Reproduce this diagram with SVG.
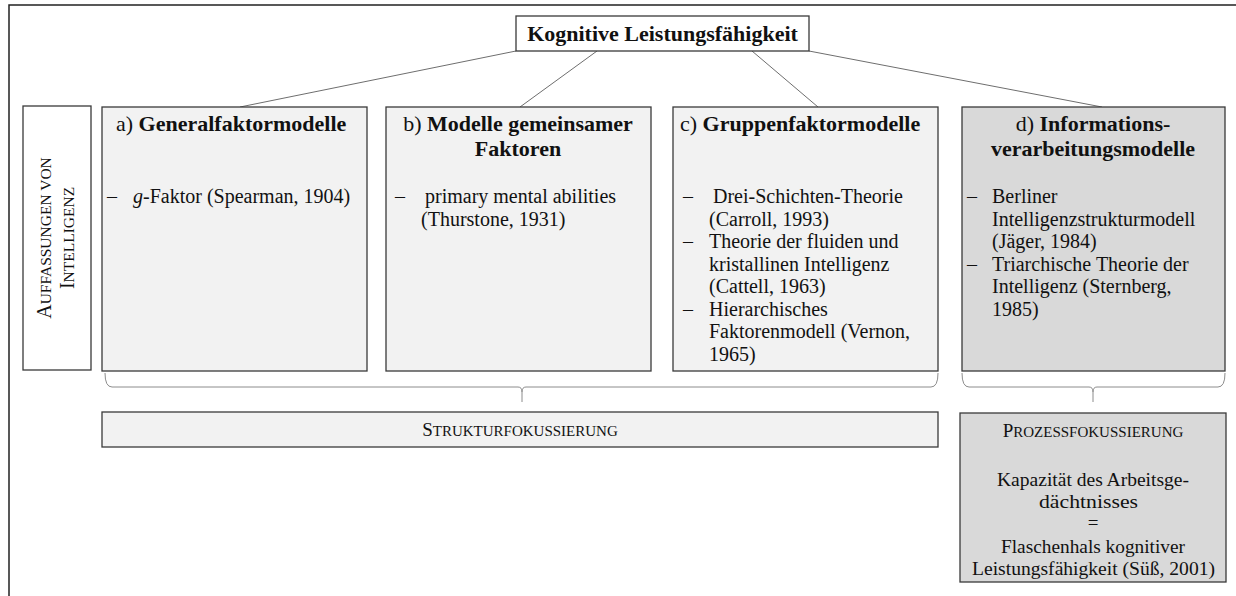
<svg xmlns="http://www.w3.org/2000/svg" width="1236" height="596" viewBox="0 0 1236 596">
  <style>
    text { font-family: "Liberation Serif", "DejaVu Serif", serif; fill: #111; }
    .box { stroke: #3a3a3a; stroke-width: 1.3; }
    .light { fill: #f2f2f2; }
    .dark { fill: #d9d9d9; }
    .white { fill: #ffffff; }
    .title { font-size: 22px; }
    .item { font-size: 20px; }
    .sc { font-size: 20px; }
    .scs { font-size: 15.5px; }
    .sc2 { font-size: 19px; }
    .scs2 { font-size: 15px; }
    .proc { font-size: 19px; }
    .link { stroke: #6e6e6e; stroke-width: 1; fill: none; }
    .brace { stroke: #8c8c8c; stroke-width: 1; fill: none; }
  </style>

  <!-- outer frame -->
  <rect x="9" y="5" width="1240" height="600" fill="#fff" stroke="#222" stroke-width="1.5"/>

  <!-- connectors from the root to the four model families -->
  <g id="connectors">
    <line class="link" x1="516" y1="51" x2="240" y2="107"/>
    <line class="link" x1="597" y1="51" x2="520" y2="107"/>
    <line class="link" x1="752" y1="51" x2="818" y2="107"/>
    <line class="link" x1="809" y1="51" x2="1102" y2="107"/>
    <!-- braces grouping the families -->
    <path class="brace" d="M105,373 Q105,387 112,387 L518,387 Q522,387 522,392 L522,402 M522,392 Q522,387 526,387 L931,387 Q938,387 938,373"/>
    <path class="brace" d="M962,373 Q962,387 969,387 L1089,387 Q1093,387 1093,392 L1093,402 M1093,392 Q1093,387 1097,387 L1218,387 Q1225,387 1225,373"/>
  </g>

  <g id="root">
    <rect class="box white" x="516" y="16" width="293" height="35"/>
    <text x="662.5" y="41" text-anchor="middle" font-size="22" font-weight="bold">Kognitive Leistungsfähigkeit</text>
  </g>

  <g id="side-label">
    <rect class="box white" x="23" y="106" width="68" height="264"/>
    <text transform="translate(51,238) rotate(-90)" text-anchor="middle"><tspan class="sc">A</tspan><tspan class="scs">UFFASSUNGEN VON</tspan></text>
    <text transform="translate(74,238) rotate(-90)" text-anchor="middle"><tspan class="sc">I</tspan><tspan class="scs">NTELLIGENZ</tspan></text>
  </g>

  <g id="node-a">
    <rect class="box light" x="102" y="107" width="265" height="264"/>
    <text class="title" x="116" y="131">a) <tspan font-weight="bold">Generalfaktormodelle</tspan></text>
    <text class="item" x="107" y="203">–</text>
    <text class="item" x="133" y="203"><tspan font-style="italic">g</tspan>-Faktor (Spearman, 1904)</text>
  </g>

  <g id="node-b">
    <rect class="box light" x="386" y="107" width="265" height="264"/>
    <text class="title" x="518" y="131" text-anchor="middle">b) <tspan font-weight="bold">Modelle gemeinsamer</tspan></text>
    <text class="title" x="518" y="156" text-anchor="middle" font-weight="bold">Faktoren</text>
    <text class="item" x="395" y="203">–</text>
    <text class="item" x="425" y="203">primary mental abilities</text>
    <text class="item" x="421" y="226">(Thurstone, 1931)</text>
  </g>

  <g id="node-c">
    <rect class="box light" x="673" y="107" width="265" height="264"/>
    <text class="title" x="680" y="131">c) <tspan font-weight="bold">Gruppenfaktormodelle</tspan></text>
    <text class="item" x="683" y="203">–</text>
    <text class="item" x="713" y="203">Drei-Schichten-Theorie</text>
    <text class="item" x="709" y="226">(Carroll, 1993)</text>
    <text class="item" x="683" y="248">–</text>
    <text class="item" x="709" y="248">Theorie der fluiden und</text>
    <text class="item" x="709" y="271">kristallinen Intelligenz</text>
    <text class="item" x="709" y="293">(Cattell, 1963)</text>
    <text class="item" x="683" y="316">–</text>
    <text class="item" x="709" y="316">Hierarchisches</text>
    <text class="item" x="709" y="338">Faktorenmodell (Vernon,</text>
    <text class="item" x="709" y="361">1965)</text>
  </g>

  <g id="node-d">
    <rect class="box dark" x="962" y="107" width="263" height="264"/>
    <text class="title" x="1093" y="131" text-anchor="middle">d) <tspan font-weight="bold">Informations-</tspan></text>
    <text class="title" x="1093" y="156" text-anchor="middle" font-weight="bold">verarbeitungsmodelle</text>
    <text class="item" x="967" y="203">–</text>
    <text class="item" x="992" y="203">Berliner</text>
    <text class="item" x="992" y="226">Intelligenzstrukturmodell</text>
    <text class="item" x="992" y="248">(Jäger, 1984)</text>
    <text class="item" x="967" y="271">–</text>
    <text class="item" x="992" y="271">Triarchische Theorie der</text>
    <text class="item" x="992" y="293">Intelligenz (Sternberg,</text>
    <text class="item" x="992" y="316">1985)</text>
  </g>

  <g id="structure-focus">
    <rect class="box light" x="102" y="412" width="836" height="35"/>
    <text x="520" y="436" text-anchor="middle"><tspan class="sc2">S</tspan><tspan class="scs2">TRUKTURFOKUSSIERUNG</tspan></text>
  </g>

  <g id="process-focus">
    <rect class="box dark" x="960" y="413" width="266" height="169"/>
    <text x="1093" y="437" text-anchor="middle"><tspan class="sc2">P</tspan><tspan class="scs2">ROZESSFOKUSSIERUNG</tspan></text>
    <text class="proc" x="997" y="486" textLength="192" lengthAdjust="spacingAndGlyphs">Kapazität des Arbeitsge-</text>
    <text class="proc" x="1039" y="508" textLength="99" lengthAdjust="spacingAndGlyphs">dächtnisses</text>
    <text class="proc" x="1093" y="529" text-anchor="middle" font-size="15">=</text>
    <text class="proc" x="1001" y="553" textLength="184" lengthAdjust="spacingAndGlyphs">Flaschenhals kognitiver</text>
    <text class="proc" x="972" y="575" textLength="243" lengthAdjust="spacingAndGlyphs">Leistungsfähigkeit (Süß, 2001)</text>
  </g>
</svg>
